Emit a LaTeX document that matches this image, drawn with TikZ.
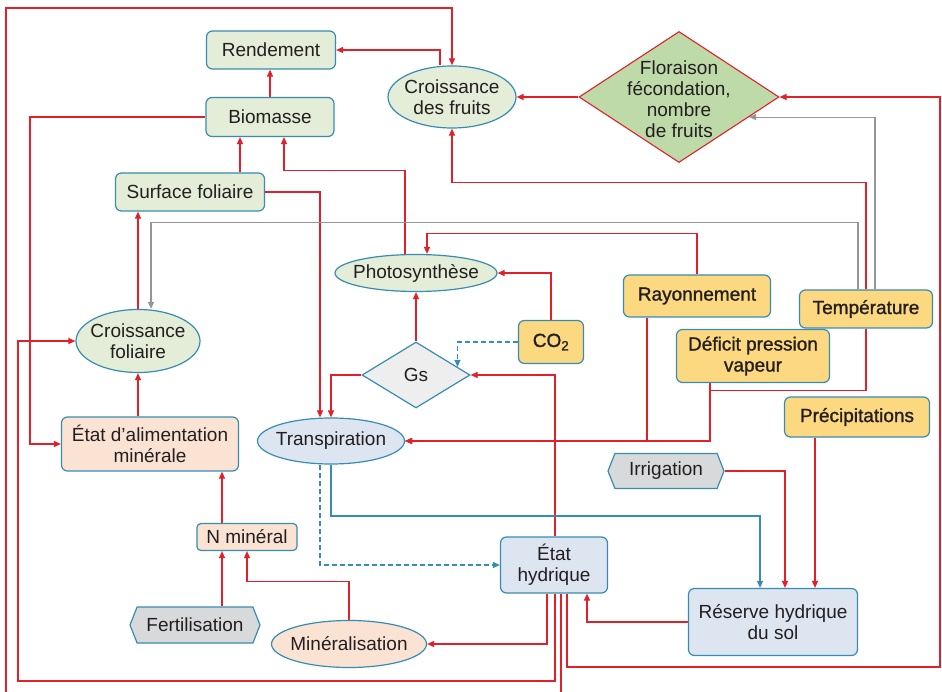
\documentclass[tikz,border=0pt]{standalone}
\usepackage{fontspec}
\setmainfont{Liberation Sans}
\newfontfamily\medfont{Liberation Sans}[FakeBold=1.2]
\usetikzlibrary{arrows.meta,shapes.geometric,shapes.symbols,backgrounds}
\definecolor{redl}{RGB}{225,32,42}
\definecolor{bord}{RGB}{55,140,180}
\definecolor{grayl}{RGB}{150,150,150}
\definecolor{txt}{RGB}{35,31,32}
\definecolor{grn}{RGB}{227,237,216}
\definecolor{flogrn}{RGB}{190,218,168}
\definecolor{lblue}{RGB}{220,229,240}
\definecolor{peach}{RGB}{251,227,212}
\definecolor{yel}{RGB}{252,216,128}
\definecolor{hexgray}{RGB}{216,217,218}
\definecolor{gsgray}{RGB}{238,238,238}
\begin{document}
\begin{tikzpicture}[x=1pt,y=-1pt,
  font=\fontsize{19}{21}\selectfont, text=txt,
  base/.style={draw=bord, line width=1.2pt, align=center, inner sep=0pt},
  box/.style={base, rectangle, rounded corners=6pt},
  ell/.style={base, ellipse, inner xsep=-20pt, inner ysep=-10pt},
  hexa/.style={base, signal, signal to=west and east, signal pointer angle=137, fill=hexgray},
  mfont/.style={font=\fontsize{19}{21}\selectfont\medfont},
  tip/.style={-{Triangle[length=7pt,width=6pt]}},
  ra/.style={draw=redl, line width=1.1pt, tip},
  ga/.style={draw=grayl, line width=1.1pt, tip},
  ba/.style={draw=bord, line width=1.1pt, tip},
  bd/.style={draw=bord, line width=1.1pt, tip, dash pattern=on 5pt off 3pt}
]
\useasboundingbox (0,0) rectangle (942,692);
% nodes
\node[box, fill=grn, minimum width=129pt, minimum height=38pt] (rend) at (271,50) {Rendement};
\node[box, fill=grn, minimum width=128pt, minimum height=39pt] (bio) at (270,117) {Biomasse};
\node[box, fill=grn, minimum width=149pt, minimum height=38pt] (sf) at (190,192) {Surface foliaire};
\node[ell, fill=grn, minimum width=128pt, minimum height=62pt] (frt) at (452,97) {Croissance\\des fruits};
\node[diamond, draw=redl, line width=1.1pt, fill=flogrn, inner sep=0pt, minimum width=200pt, minimum height=131pt] (flo) at (679,97) {};
\node[align=center, inner sep=0pt] (flot) at (679,99) {Floraison\\fécondation,\\nombre\\de fruits};
\node[ell, fill=grn, minimum width=162pt, minimum height=37pt] (ph) at (416,273) {Photosynthèse};
\node[ell, fill=grn, minimum width=124pt, minimum height=63pt] (cf) at (138,341) {Croissance\\foliaire};
\node[base, diamond, fill=gsgray, minimum width=108pt, minimum height=66pt] (gs) at (416,375) {Gs};
\node[ell, fill=lblue, minimum width=147pt, minimum height=46pt] (tr) at (331,441) {Transpiration};
\node[box, fill=peach, minimum width=177pt, minimum height=54pt] (alim) at (150,444) {État d’alimentation\\minérale};
\node[box, rounded corners=4pt, fill=peach, minimum width=100pt, minimum height=27pt] (nmin) at (247,537) {N minéral};
\node[hexa, minimum width=130pt, minimum height=36pt] (fert) at (195,625) {Fertilisation};
\node[ell, fill=peach, minimum width=155pt, minimum height=47pt] (min) at (349,644) {Minéralisation};
\node[box, mfont, fill=yel, minimum width=65pt, minimum height=43pt] (co2) at (551,342) {CO\textsubscript{2}};
\node[box, mfont, fill=yel, minimum width=147pt, minimum height=42pt] (ray) at (697,296) {Rayonnement};
\node[box, mfont, fill=yel, minimum width=133pt, minimum height=38pt] (temp) at (866,309) {Température};
\node[box, mfont, fill=yel, minimum width=153pt, minimum height=53pt] (dpv) at (753,356) {Déficit pression\\vapeur};
\node[box, mfont, fill=yel, minimum width=145pt, minimum height=40pt] (pre) at (857,417) {Précipitations};
\node[hexa, minimum width=116pt, minimum height=35pt] (irr) at (666,471) {Irrigation};
\node[box, fill=lblue, minimum width=107pt, minimum height=56pt] (eh) at (554,565) {État\\hydrique};
\node[box, fill=lblue, minimum width=169pt, minimum height=67pt] (res) at (773,622) {Réserve hydrique\\du sol};
% routing points
\coordinate (cBL) at (6,695);
\coordinate (cTL) at (6,8);
\coordinate (c2) at (18,681);
\coordinate (c4) at (940,667);
\coordinate (c7) at (760,516);
\coordinate (c18) at (30,117);
\coordinate (j1) at (710,441);
\begin{pgfonlayer}{background}
% from État hydrique
\draw[ra] ([xshift=7pt]eh.south) |- (cBL) -- (cTL) -| (frt.north);
\draw[ra] ([xshift=1pt]eh.south) |- (c2) |- (cf.west);
\draw[ra] ([xshift=-7pt]eh.south) |- (min.east);
\draw[ra] ([xshift=13pt]eh.south) |- (c4) |- (flo.east);
\draw[ra] ([xshift=1pt]eh.north) |- (gs.east);
\draw[ra] (res.west) -| ([xshift=33pt]eh.south);
% water
\draw[ba] (tr.south) |- (c7) -- ([xshift=-13pt]res.north);
\draw[bd] ([xshift=-11pt]tr.south) |- (eh.west);
\draw[ra] (irr.east) -| ([xshift=12pt]res.north);
\draw[ra] ([xshift=-42pt]pre.south) -- ([xshift=42pt]res.north);
% nitrogen
\draw[ra] (min.north) -- ++(0,-38) -| (nmin.south);
\draw[ra] ([xshift=27pt]fert.north) -- ([xshift=-25pt]nmin.south);
\draw[ra] ([xshift=-25pt]nmin.north) -- ([xshift=72pt]alim.south);
\draw[ra] ([xshift=-12pt]alim.north) -- (cf.south);
% growth
\draw[ra] (cf.north) -- ([xshift=-52pt]sf.south);
\draw[ra] ([xshift=50pt]sf.north) -- ([xshift=-30pt]bio.south);
\draw[ra] (bio.north) -- (bio.north |- rend.south);
\draw[ra] (bio.west) -- (c18) |- (alim.west);
\draw[ra] (sf.east) -| ([xshift=-11pt]tr.north);
\draw[ra] ([xshift=-11pt]ph.north) -- ++(0,-83) -| ([xshift=14pt]bio.south);
\draw[ra] ([xshift=-12pt]frt.north) |- (rend.east);
\draw[ra] (flo.west) -- (frt.east);
% climate
\draw[ga] ([xshift=9pt]temp.north) |- (flo.-16);
\draw[ga] ([xshift=-8pt]temp.north) -- ++(0,-67) -| ([xshift=13pt]cf.north);
\draw[ra] (temp.north) -- ++(0,-107) -| (frt.south);
\draw[ra] (temp.south) -- ++(0,62) -| (j1) -- (tr.east);
\draw[ra] ([xshift=-43pt]dpv.south) |- (tr.east);
\draw[ra] ([xshift=-50pt]ray.south) |- (tr.east);
\draw[ra] (ray.north) -- ++(0,-41) -| ([xshift=11pt]ph.north);
\draw[ra] (co2.north) |- (ph.east);
\draw[bd] (co2.west) -| (gs.11);
\draw[ra] (gs.north) -- (ph.south);
\draw[ra] (gs.west) -| (tr.north);
\end{pgfonlayer}
\end{tikzpicture}
\end{document}
